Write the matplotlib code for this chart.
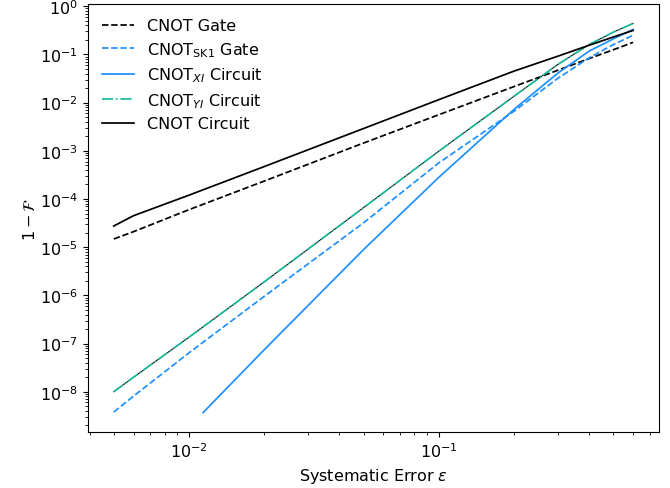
import numpy as np
import matplotlib
matplotlib.use("Agg")
import matplotlib.pyplot as plt

plt.rcParams["font.size"] = 11.5
plt.rcParams["lines.linewidth"] = 1.25

# Systematic error values (x)
eps = [0.005, 0.006, 0.01, 0.02, 0.05, 0.1, 0.2, 0.3, 0.4, 0.5, 0.6]
eps_xi = [0.0114, 0.02, 0.05, 0.1, 0.2, 0.3, 0.4, 0.5, 0.6]

# Infidelity values (1 - F)
cnot_gate = [1.48e-5, 2.1e-5, 6.0e-5, 2.35e-4, 1.45e-3, 5.6e-3, 0.0215, 0.047, 0.082, 0.125, 0.178]
cnot_sk1_gate = [3.8e-9, 8.1e-9, 6.4e-8, 9.5e-7, 3.2e-5, 5.6e-4, 6.6e-3, 0.032, 0.085, 0.16, 0.25]
cnot_xi_circuit = [3.7e-9, 7.4e-8, 8.9e-6, 2.8e-4, 7.2e-3, 0.041, 0.117, 0.21, 0.33]
cnot_yi_circuit = [1.0e-8, 2.0e-8, 1.35e-7, 1.9e-6, 6.6e-5, 9.8e-4, 0.0135, 0.062, 0.16, 0.29, 0.44]
cnot_circuit = [2.75e-5, 4.5e-5, 1.2e-4, 4.7e-4, 2.9e-3, 0.0115, 0.045, 0.092, 0.155, 0.23, 0.315]

labels = ["CNOT Gate", r"CNOT$_{\mathrm{SK1}}$ Gate", r"CNOT$_{XI}$ Circuit",
          r"CNOT$_{YI}$ Circuit", "CNOT Circuit"]

blue = "#1e90ff"
teal = "#1abc9c"

fig = plt.figure(figsize=(6.7, 4.89), dpi=100)
ax = fig.add_axes([0.131, 0.1145, 0.8526, 0.8753])

ax.loglog(eps, cnot_gate, color="black", linestyle="--", label=labels[0])
ax.loglog(eps, cnot_sk1_gate, color=blue, linestyle="--", label=labels[1])
ax.loglog(eps_xi, cnot_xi_circuit, color=blue, linestyle="-", label=labels[2])
ax.loglog(eps, cnot_yi_circuit, color="black", linestyle="-", linewidth=0.7)
ax.loglog(eps, cnot_yi_circuit, color=teal, linestyle="-.", label=labels[3])
ax.loglog(eps, cnot_circuit, color="black", linestyle="-", label=labels[4])

ax.set_xlabel(r"Systematic Error $\epsilon$")
ax.set_ylabel(r"$1-\mathcal{F}$", labelpad=1)
ax.legend(loc="upper left", frameon=False, labelspacing=0.42)

fig.savefig("out.png", dpi=100)
